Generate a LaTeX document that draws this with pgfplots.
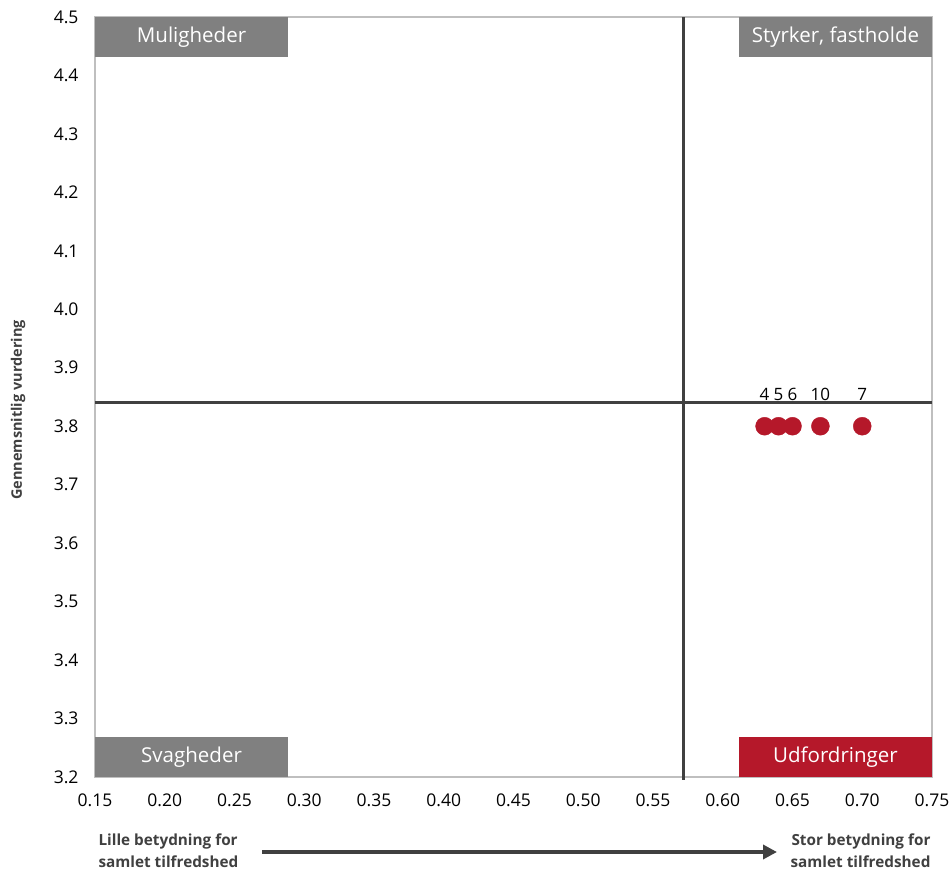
\documentclass[border=0pt]{standalone}
\usepackage{pgfplots}
\pgfplotsset{compat=1.18}
\usetikzlibrary{arrows.meta}
\usepackage{fontspec}
\setmainfont{Open Sans}
\definecolor{boxgray}{HTML}{808080}
\definecolor{boxred}{HTML}{B5182A}
\definecolor{linegray}{HTML}{404040}
\definecolor{framegray}{HTML}{BFBFBF}
\definecolor{titlegray}{HTML}{404040}
\begin{document}
\begin{tikzpicture}
\useasboundingbox (-95pt,-94pt) rectangle (856pt,777pt);
\begin{axis}[
  scale only axis,
  width=837pt, height=760pt,
  xmin=0.15, xmax=0.75, ymin=3.2, ymax=4.5,
  xtick={0.15,0.20,...,0.76},
  ytick={3.2,3.3,...,4.51},
  major tick length=0pt,
  axis line style={framegray, line width=1.5pt},
  /pgf/number format/assume math mode=true,
  xticklabel style={/pgf/number format/.cd, fixed, fixed zerofill, precision=2, /tikz/.cd, font=\fontsize{17.5}{20}\selectfont, yshift=-13pt},
  yticklabel style={/pgf/number format/.cd, fixed, fixed zerofill, precision=1, /tikz/.cd, font=\fontsize{17.5}{20}\selectfont, xshift=-13pt},
  clip=false,
]
% quadrant boxes
\fill[boxgray] (axis cs:0.15,4.5) rectangle (axis cs:0.2884,4.4316);
\node[text=white, font=\fontsize{20.5}{24}\selectfont] at (axis cs:0.2192,4.4658) {Muligheder};
\fill[boxgray] (axis cs:0.6116,4.5) rectangle (axis cs:0.75,4.4316);
\node[text=white, font=\fontsize{20.5}{24}\selectfont] at (axis cs:0.6808,4.4658) {Styrker, fastholde};
\fill[boxgray] (axis cs:0.15,3.2) rectangle (axis cs:0.2884,3.2684);
\node[text=white, font=\fontsize{20.5}{24}\selectfont] at (axis cs:0.2192,3.2342) {Svagheder};
\fill[boxred] (axis cs:0.6116,3.2) rectangle (axis cs:0.75,3.2684);
\node[text=white, font=\fontsize{20.5}{24}\selectfont] at (axis cs:0.6808,3.2342) {Udfordringer};
% quadrant lines
\draw[linegray, line width=3.3pt] (axis cs:0.572,3.195) -- (axis cs:0.572,4.5);
\draw[linegray, line width=3.3pt] (axis cs:0.15,3.84) -- (axis cs:0.75,3.84);
% data
\addplot[only marks, mark=*, mark size=9pt, color=boxred,
  nodes near coords, point meta=explicit symbolic,
  every node near coord/.append style={black, font=\fontsize{17}{19}\selectfont, yshift=22pt}]
  table[meta=label] {
x y label
0.63 3.80 4
0.64 3.80 5
0.65 3.80 6
0.67 3.80 10
0.70 3.80 7
};
\end{axis}
\draw[titlegray, line width=3.5pt, -{Triangle[length=14pt,width=14pt]}] (167pt,-75pt) -- (682pt,-75pt);
\node[anchor=west, align=left, text=titlegray, font=\bfseries\fontsize{15.3}{22}\selectfont] at (0pt,-74pt) {Lille betydning for\\samlet tilfredshed};
\node[anchor=east, align=right, text=titlegray, font=\bfseries\fontsize{15.3}{22}\selectfont] at (839pt,-74pt) {Stor betydning for\\samlet tilfredshed};
\node[rotate=90, text=titlegray, font=\bfseries\fontsize{14.5}{16}\selectfont] at (-77pt,367pt) {Gennemsnitlig vurdering};
\end{tikzpicture}
\end{document}
